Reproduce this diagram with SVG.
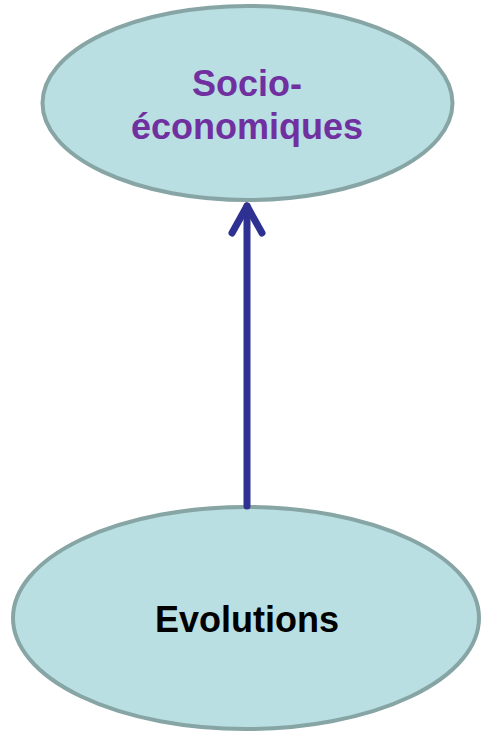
<svg xmlns="http://www.w3.org/2000/svg" width="481" height="732" viewBox="0 0 481 732">
<style>
.node{fill:#B9DFE2;stroke:#87A5A5;stroke-width:4}
.lbl{font-family:"Liberation Sans",Arial,sans-serif;font-weight:bold;font-size:36px;text-anchor:middle}
.conn{stroke:#2E3192;stroke-width:7;fill:none;stroke-linecap:round;stroke-linejoin:round}
</style>
<rect width="481" height="732" fill="#FFFFFF"/>
<g id="node-socio">
<ellipse class="node" cx="247.5" cy="103" rx="205" ry="97"/>
<text class="lbl" x="247" y="96" fill="#7030A0">Socio-</text>
<text class="lbl" x="247" y="139" fill="#7030A0">économiques</text>
</g>
<g id="node-evolutions">
<ellipse class="node" cx="246" cy="618" rx="233" ry="111"/>
<text class="lbl" x="247" y="632" fill="#000000">Evolutions</text>
</g>
<g id="connectors">
<line class="conn" x1="247" y1="506" x2="247" y2="206"/>
<polyline class="conn" points="232,233 247,206 262,233"/>
</g>
</svg>
